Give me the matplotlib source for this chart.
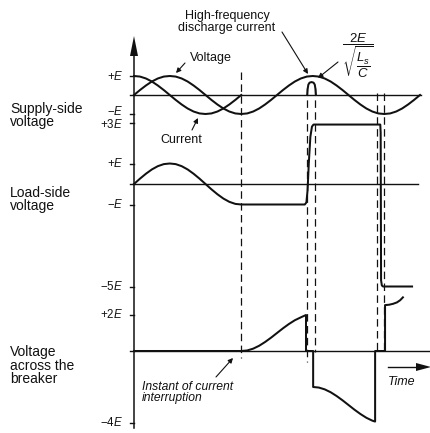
import matplotlib
matplotlib.use('Agg')
import matplotlib.pyplot as plt
from matplotlib.transforms import blended_transform_factory
from matplotlib.patches import Polygon

plt.rcParams['font.family'] = ['Liberation Sans', 'DejaVu Sans']
plt.rcParams['mathtext.fontset'] = 'custom'
plt.rcParams['mathtext.rm'] = 'Liberation Sans'
plt.rcParams['mathtext.it'] = 'Liberation Sans:italic'
plt.rcParams['mathtext.bf'] = 'Liberation Sans:bold'

# ---------------- data (phase angle in degrees, values in multiples of E) -------------
supply_t = list(range(0, 721, 15))
supply_v = [0, .26, .5, .71, .87, .97, 1, .97, .87, .71, .5, .26,
            0, -.26, -.5, -.71, -.87, -.97, -1, -.97, -.87, -.71, -.5, -.26,
            0, .26, .5, .71, .87, .97, 1, .97, .87, .71, .5, .26,
            0, -.26, -.5, -.71, -.87, -.97, -1, -.97, -.87, -.71, -.5, -.26, 0]

current_t = list(range(0, 271, 15))
current_v = [1, .97, .87, .71, .5, .26, 0, -.26, -.5, -.71, -.87, -.97,
             -1, -.97, -.87, -.71, -.5, -.26, 0]

hf_t = [436, 437, 439, 442, 447, 452, 455, 457, 458]
hf_v = [0, .3, .55, .65, .68, .65, .55, .3, 0]

load_t = list(range(0, 271, 15)) + [300, 330, 360, 400, 430, 434, 437, 440, 444, 448, 452,
                                    500, 560, 620, 621, 622, 624, 627, 660, 700]
load_v = [0, .26, .5, .71, .87, .97, 1, .97, .87, .71, .5, .26, 0, -.26, -.5, -.71, -.87, -.97, -1] + \
         [-1, -1, -1, -1, -1, -.9, -.3, 1.0, 2.3, 2.8, 2.9, 2.9, 2.9, 2.9, 2.5, -4.7, -4.95, -5, -5, -5]

breaker_t = [0, 270, 285, 300, 315, 330, 345, 360, 375, 390, 405, 420, 433,
             433, 451, 451, 465, 480, 495, 510, 525, 540, 555, 570, 585, 600,
             607, 607, 632, 632, 642, 652, 662, 670, 677]
breaker_v = [0, 0, .03, .13, .29, .5, .74, 1, 1.26, 1.5, 1.71, 1.87, 2.0,
             0, 0, -2.0, -2.03, -2.13, -2.29, -2.5, -2.74, -3, -3.26, -3.5, -3.71, -3.87,
             -3.92, 0, 0, 2.55, 2.57, 2.62, 2.7, 2.82, 2.98]

event_t = [270, 436, 456, 612, 629]

supply_ticks = [1, 0, -1]
supply_labels = [r'$+E$', '', r'$-E$']
load_ticks = [3, 1, 0, -1, -5]
load_labels = [r'$+3E$', r'$+E$', '', r'$-E$', r'$-5E$']
breaker_ticks = [2, 0, -4]
breaker_labels = [r'$+2E$', '', r'$-4E$']

# ---------------- layout ----------------
W, H = 431, 433
X0, PX_PER_DEG = 134, 143 / 360.0
XL = (-X0 / PX_PER_DEG, (W - X0) / PX_PER_DEG)

fig = plt.figure(figsize=(W / 100, H / 100), dpi=100)
fig.patch.set_facecolor('white')


def panel(zero_px, px_per_e):
    ax = fig.add_axes([0, 0, 1, 1])
    ax.set_xlim(*XL)
    ax.set_ylim(-(H - zero_px) / px_per_e, zero_px / px_per_e)
    ax.axis('off')
    ax.patch.set_visible(False)
    return ax


ax_s = panel(95, 19)
ax_l = panel(184, 20.5)
ax_b = panel(351, 18)

ov = fig.add_axes([0, 0, 1, 1])
ov.set_xlim(0, W)
ov.set_ylim(H, 0)
ov.axis('off')
ov.patch.set_visible(False)

K = '#111111'
LW = 1.45

# baselines
ax_s.plot([0, 722], [0, 0], color=K, lw=1.0)
ax_l.plot([0, 715], [0, 0], color=K, lw=1.0)
ax_b.plot([0, 760], [0, 0], color=K, lw=1.0)

# curves
ax_s.plot(supply_t, supply_v, color=K, lw=LW)
ax_s.plot(current_t, current_v, color=K, lw=LW)
ax_s.plot(hf_t, hf_v, color=K, lw=LW)
ax_l.plot(load_t, load_v, color=K, lw=LW)
ax_b.plot(breaker_t, breaker_v, color=K, lw=LW)

# dashed event lines (x: phase, y: figure pixels)
tr = blended_transform_factory(ax_s.transData, ov.transData)
ev_top = [72, 88, 88, 93, 93]
ev_bot = [358, 362, 352, 352, 350]
for t, a, b in zip(event_t, ev_top, ev_bot):
    ov.plot([t, t], [a, b], transform=tr, color=K, lw=0.9, ls=(0, (6, 3.5)))

# vertical axis with arrow
ov.plot([X0, X0], [428, 50], color=K, lw=1.1)
ov.add_patch(Polygon([[X0, 36], [X0 - 4, 56], [X0 + 4, 56]], closed=True, color=K, lw=0))

# ticks and tick labels
for axp, ticks, labels, shifts in [(ax_s, supply_ticks, supply_labels, [0, 0, -2.5]),
                                   (ax_l, load_ticks, load_labels, [1.5, 0, 0, 0, 0]),
                                   (ax_b, breaker_ticks, breaker_labels, [0, 0, 0])]:
    trt = blended_transform_factory(ov.transData, axp.transData)
    for v, lab, sh in zip(ticks, labels, shifts):
        ov.plot([X0 - 4, X0], [v, v], transform=trt, color=K, lw=1.0)
        if lab:
            ov.annotate(lab, xy=(123, v), xycoords=trt, xytext=(0, -sh * 0.72),
                        textcoords='offset points', ha='right', va='center',
                        fontsize=8.3, color=K)

# left labels (one multi-line text each)
for txt, y in [('Supply-side\nvoltage', 115.5), ('Load-side\nvoltage', 199.5),
               ('Voltage\nacross the\nbreaker', 365.5)]:
    ov.text(10, y, txt, ha='left', va='center', fontsize=10, linespacing=0.98, color=K)

# annotations
ov.text(227, 22.5, 'High-frequency\ndischarge current', ha='center', va='center',
        fontsize=9, linespacing=1.0, color=K)
ov.text(190, 58, 'Voltage', ha='left', va='center', fontsize=9, color=K)
ov.text(160, 140, 'Current', ha='left', va='center', fontsize=9, color=K)
ov.text(358, 56, r'$\dfrac{2E}{\sqrt{\dfrac{L_s}{C}}}$', ha='center', va='center',
        fontsize=9.5, color=K)
ov.text(142, 392.5, 'Instant of current\ninterruption', ha='left', va='center', fontsize=8.7,
        style='italic', linespacing=1.0, color=K)
ov.text(402, 382, 'Time', ha='center', va='center', fontsize=9, style='italic', color=K)

arrow = dict(arrowstyle='-|>', lw=0.8, color=K, mutation_scale=7, shrinkA=0, shrinkB=0)
for start, tip in [((185, 63), (176, 73)), ((192, 130), (198, 118)), ((282, 32), (308, 74)),
                   ((338, 62), (318, 78)), ((216, 377), (233, 358))]:
    ov.annotate('', xy=tip, xytext=start, arrowprops=arrow)

# time arrow
ov.plot([388, 419], [367, 367], color=K, lw=1.0)
ov.add_patch(Polygon([[416, 363], [431, 367], [416, 371]], closed=True, color=K, lw=0))

fig.savefig('out.png', dpi=100, facecolor='white')
